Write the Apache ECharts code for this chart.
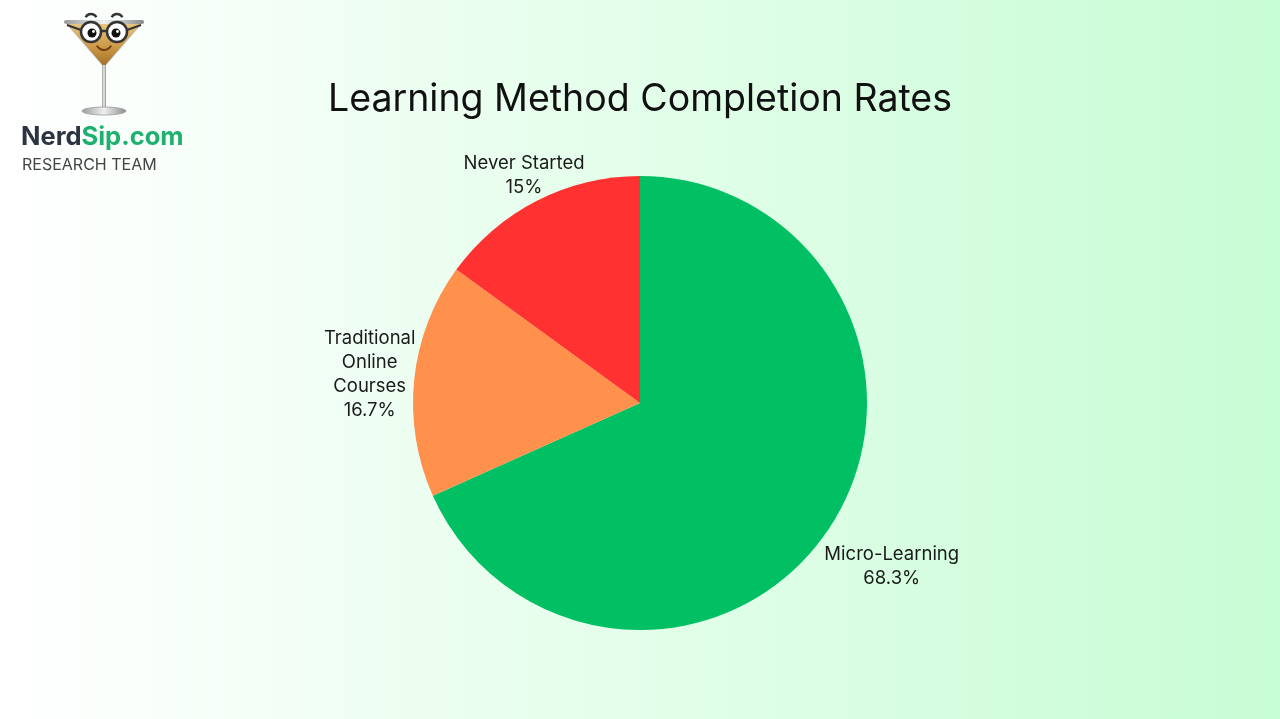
<!DOCTYPE html>
<html>
<head>
<meta charset="utf-8">
<script src="https://cdn.jsdelivr.net/npm/echarts@6/dist/echarts.min.js"></script>
<style>
html,body{margin:0;padding:0;width:1280px;height:719px;overflow:hidden;}
#main{width:1280px;height:719px;}
</style>
</head>
<body>
<div id="main"></div>
<script>
var categories = ['Micro-Learning', 'Traditional Online Courses', 'Never Started'];
var values = [68.3, 16.7, 15];
var colors = ['#00c063', '#ff914d', '#ff3131'];
var titleText = 'Learning Method Completion Rates';

var FONT = 'Inter, "Open Sans", sans-serif';
var CY = 403, R = 227;

var chart = echarts.init(document.getElementById('main'), null, {renderer: 'canvas'});

var pieData = categories.map(function (c, i) {
  return { name: c, value: values[i], itemStyle: { color: colors[i] } };
});

function wrapName(n) {
  return n.length > 16 ? n.split(' ').join('\n') : n;
}

var silver = new echarts.graphic.LinearGradient(0, 0, 1, 0, [
  {offset: 0, color: '#9a9a9a'}, {offset: 0.5, color: '#f0f0f0'}, {offset: 1, color: '#8a8a8a'}
]);

var logo = [
  { type: 'polygon', shape: { points: [[66, 23], [142, 23], [104, 67]] },
    style: { fill: new echarts.graphic.LinearGradient(0, 0, 0, 1, [
      {offset: 0, color: '#e9c782'}, {offset: 0.6, color: '#c99440'}, {offset: 1, color: '#9c6a22'}]),
      stroke: '#b9b9b9', lineWidth: 1 } },
  { type: 'rect', shape: { x: 64, y: 20, width: 80, height: 4, r: 2 }, style: { fill: silver } },
  { type: 'arc', shape: { cx: 91, cy: 20, r: 6, startAngle: Math.PI * 1.15, endAngle: Math.PI * 1.85 },
    style: { stroke: '#333', lineWidth: 2.5, fill: 'none' } },
  { type: 'arc', shape: { cx: 117, cy: 20, r: 6, startAngle: Math.PI * 1.15, endAngle: Math.PI * 1.85 },
    style: { stroke: '#333', lineWidth: 2.5, fill: 'none' } },
  { type: 'circle', shape: { cx: 91, cy: 32, r: 10 }, style: { fill: '#ffffff', stroke: '#333', lineWidth: 2.5 } },
  { type: 'circle', shape: { cx: 117, cy: 32, r: 10 }, style: { fill: '#ffffff', stroke: '#333', lineWidth: 2.5 } },
  { type: 'line', shape: { x1: 101, y1: 31, x2: 107, y2: 31 }, style: { stroke: '#333', lineWidth: 2.5 } },
  { type: 'line', shape: { x1: 81, y1: 30, x2: 67, y2: 25 }, style: { stroke: '#333', lineWidth: 2 } },
  { type: 'line', shape: { x1: 127, y1: 30, x2: 141, y2: 25 }, style: { stroke: '#333', lineWidth: 2 } },
  { type: 'circle', shape: { cx: 92, cy: 33, r: 4.5 }, style: { fill: '#111' } },
  { type: 'circle', shape: { cx: 116, cy: 33, r: 4.5 }, style: { fill: '#111' } },
  { type: 'circle', shape: { cx: 93.5, cy: 31.5, r: 1.4 }, style: { fill: '#fff' } },
  { type: 'circle', shape: { cx: 117.5, cy: 31.5, r: 1.4 }, style: { fill: '#fff' } },
  { type: 'arc', shape: { cx: 104, cy: 42, r: 8, startAngle: Math.PI * 0.15, endAngle: Math.PI * 0.85 },
    style: { stroke: '#6b3c10', lineWidth: 2, fill: 'none' } },
  { type: 'rect', shape: { x: 102, y: 65, width: 4, height: 44 }, style: { fill: silver } },
  { type: 'ellipse', shape: { cx: 104, cy: 111, rx: 22, ry: 4 }, style: { fill: silver, stroke: '#999', lineWidth: 0.8 } },
  { type: 'text', left: 21, top: 124,
    style: { text: '{a|Nerd}{b|Sip.com}', rich: {
      a: { fontFamily: FONT, fontSize: 25.5, fontWeight: 'bold', fill: '#2d3441' },
      b: { fontFamily: FONT, fontSize: 25.5, fontWeight: 'bold', fill: '#1fb070' } } } },
  { type: 'text', left: 22, top: 157,
    style: { text: 'RESEARCH TEAM', fontFamily: FONT, fontSize: 16, fill: '#444444' } }
];

var option = {
  backgroundColor: {
    type: 'linear', x: 0, y: 0, x2: 1, y2: 0,
    colorStops: [{offset: 0, color: '#ffffff'}, {offset: 1, color: '#c7fdd5'}]
  },
  title: {
    text: titleText, left: 'center', top: 76,
    textStyle: { fontFamily: FONT, fontSize: 37.5, fontWeight: 'normal', color: '#111111' }
  },
  graphic: logo,
  series: [{
    type: 'pie',
    center: ['50%', CY],
    radius: R,
    startAngle: 90,
    clockwise: true,
    silent: true,
    data: pieData,
    labelLine: { show: false },
    label: {
      show: true,
      position: 'inside',
      fontFamily: FONT,
      fontSize: 18.5,
      lineHeight: 24,
      color: '#1a1a1a',
      formatter: function (p) { return wrapName(p.name) + '\n' + p.value + '%'; }
    },
    labelLayout: function (p) {
      var r = p.labelRect;
      var lx = r.x + r.width / 2, ly = r.y + r.height / 2;
      var cx = chart.getWidth() / 2, cy = CY;
      var vx = lx - cx, vy = ly - cy, d = Math.sqrt(vx * vx + vy * vy);
      var ux = vx / d, uy = vy / d;
      var extra = 1.82 * Math.abs(ux) * r.width / 2 + Math.abs(uy) * r.height / 2 - 43;
      var t = R + extra;
      return { x: cx + ux * t, y: cy + uy * t, align: 'center', verticalAlign: 'middle' };
    }
  }]
};
chart.setOption(option);
</script>
</body>
</html>
